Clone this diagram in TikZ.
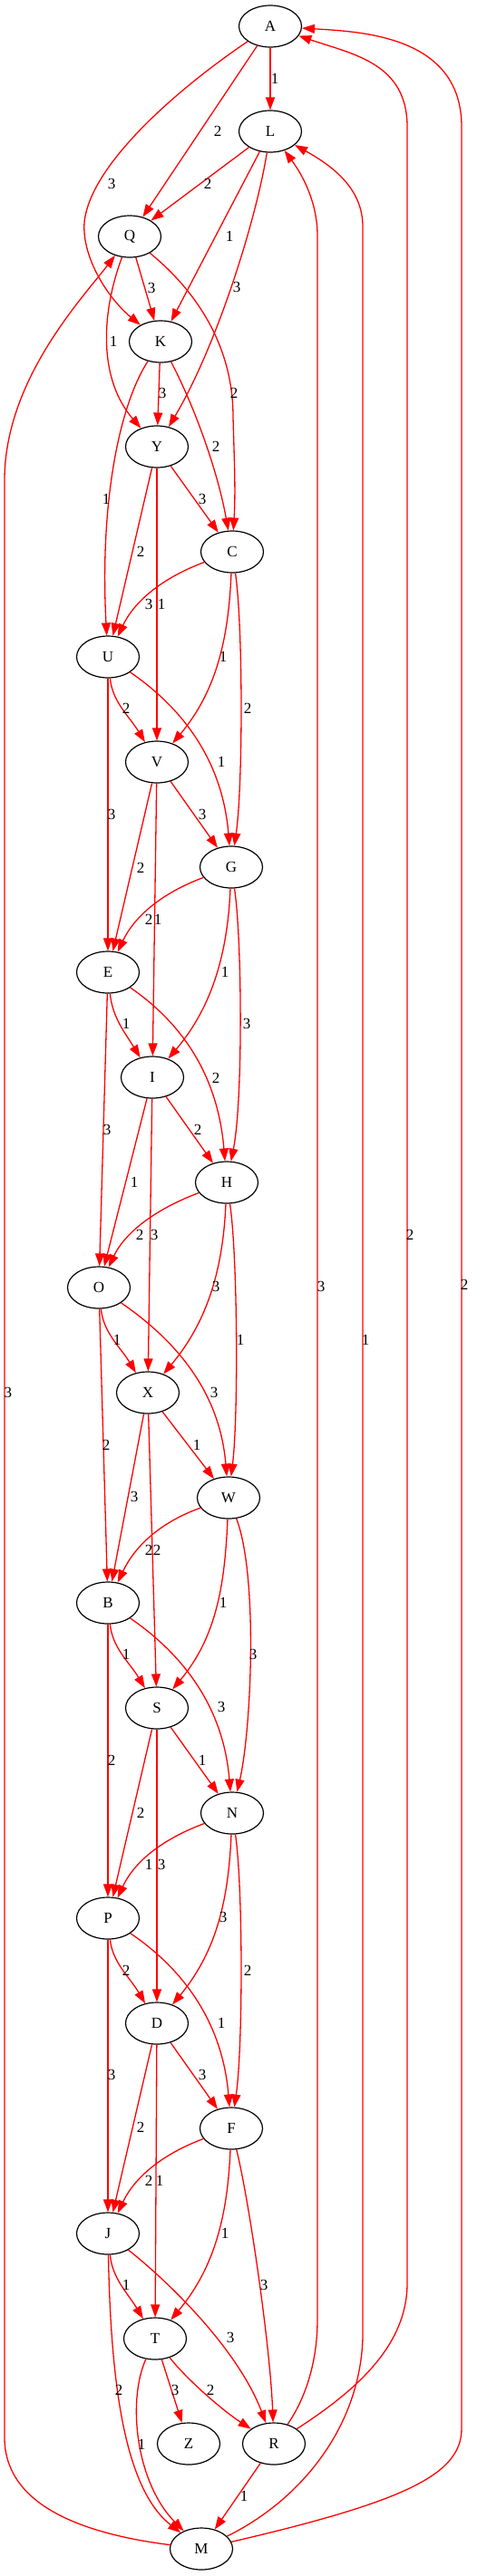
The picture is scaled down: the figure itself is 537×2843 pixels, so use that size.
\documentclass[tikz,border=0pt]{standalone}
\usepackage{fontspec}
\setmainfont{Liberation Serif}
\usetikzlibrary{shapes.geometric,arrows.meta}
\tikzset{
  vtx/.style={draw=black, line width=1.2pt, ellipse, minimum width=69pt, minimum height=46pt, inner sep=0pt, font=\fontsize{17}{20}\selectfont},
  e/.style={draw=red, line width=1.3pt, -{Triangle[length=14pt,width=10pt]}},
  lbl/.style={inner sep=0pt, font=\fontsize{17}{20}\selectfont},
}
\begin{document}
\begin{tikzpicture}[x=1pt,y=-1pt]
\useasboundingbox (0,0) rectangle (537,2843);
% nodes
\node[vtx] (A) at (298,29) {A};
\node[vtx] (L) at (298,145) {L};
\node[vtx] (Q) at (143,261) {Q};
\node[vtx] (K) at (177,377) {K};
\node[vtx] (Y) at (173,493) {Y};
\node[vtx] (C) at (256,609) {C};
\node[vtx] (U) at (119,725) {U};
\node[vtx] (V) at (173,841) {V};
\node[vtx] (G) at (255,957) {G};
\node[vtx] (E) at (119,1073) {E};
\node[vtx] (I) at (168,1189) {I};
\node[vtx] (H) at (250,1305) {H};
\node[vtx] (O) at (109,1421) {O};
\node[vtx] (X) at (163,1537) {X};
\node[vtx] (W) at (252,1653) {W};
\node[vtx] (B) at (119,1769) {B};
\node[vtx] (S) at (173,1885) {S};
\node[vtx] (N) at (256,2001) {N};
\node[vtx] (P) at (119,2117) {P};
\node[vtx] (D) at (173,2233) {D};
\node[vtx] (F) at (255,2349) {F};
\node[vtx] (J) at (119,2465) {J};
\node[vtx] (T) at (171,2581) {T};
\node[vtx] (Z) at (208,2697) {Z};
\node[vtx] (R) at (302,2697) {R};
\node[vtx] (M) at (222,2813) {M};
% edges
\draw[e] (A) -- (L);
\draw[e] (A) -- (Q);
\draw[e] (A) .. controls (200,95) and (100,180) .. (93,245) .. controls (90,285) and (120,330) .. (K);
\draw[e] (L) -- (Q);
\draw[e] (L) -- (K);
\draw[e] (L) .. controls (283,240) and (240,380) .. (Y);
\draw[e] (Q) -- (K);
\draw[e] (Q) .. controls (110,350) and (110,420) .. (Y);
\draw[e] (Q) .. controls (215,320) and (257,380) .. (257,460) .. controls (258,500) and (260,540) .. (C);
\draw[e] (K) -- (Y);
\draw[e] (K) .. controls (215,450) and (240,520) .. (C);
\draw[e] (K) .. controls (130,450) and (110,560) .. (U);
\draw[e] (Y) -- (C);
\draw[e] (Y) -- (U);
\draw[e] (Y) -- (V);
\draw[e] (C) .. controls (181,637) and (149,662) .. (U);
\draw[e] (C) .. controls (252,702) and (240,761) .. (V);
\draw[e] (C) .. controls (268,689) and (268,867) .. (G);
\draw[e] (U) .. controls (124,775) and (143,791) .. (V);
\draw[e] (U) .. controls (199,780) and (245,837) .. (G);
\draw[e] (U) -- (E);
\draw[e] (V) -- (G);
\draw[e] (V) -- (E);
\draw[e] (V) -- (I);
\draw[e] (G) .. controls (180,985) and (149,1010) .. (E);
\draw[e] (G) .. controls (251,1050) and (235,1110) .. (I);
\draw[e] (G) .. controls (267,1037) and (268,1215) .. (H);
\draw[e] (E) .. controls (124,1123) and (138,1140) .. (I);
\draw[e] (E) .. controls (199,1128) and (240,1185) .. (H);
\draw[e] (E) -- (O);
\draw[e] (I) -- (H);
\draw[e] (I) -- (O);
\draw[e] (I) -- (X);
\draw[e] (H) .. controls (175,1333) and (139,1358) .. (O);
\draw[e] (H) .. controls (246,1398) and (230,1457) .. (X);
\draw[e] (H) .. controls (262,1385) and (263,1562) .. (W);
\draw[e] (O) .. controls (114,1471) and (133,1487) .. (X);
\draw[e] (O) .. controls (189,1476) and (242,1532) .. (W);
\draw[e] (O) -- (B);
\draw[e] (X) -- (W);
\draw[e] (X) -- (B);
\draw[e] (X) -- (S);
\draw[e] (W) .. controls (177,1680) and (149,1706) .. (B);
\draw[e] (W) .. controls (248,1745) and (240,1805) .. (S);
\draw[e] (W) .. controls (285,1740) and (277,1910) .. (N);
\draw[e] (B) .. controls (124,1819) and (143,1835) .. (S);
\draw[e] (B) .. controls (199,1824) and (246,1881) .. (N);
\draw[e] (B) -- (P);
\draw[e] (S) -- (N);
\draw[e] (S) -- (P);
\draw[e] (S) -- (D);
\draw[e] (N) .. controls (181,2029) and (149,2053) .. (P);
\draw[e] (N) .. controls (252,2094) and (240,2152) .. (D);
\draw[e] (N) .. controls (268,2081) and (268,2259) .. (F);
\draw[e] (P) .. controls (124,2166) and (143,2182) .. (D);
\draw[e] (P) .. controls (199,2171) and (245,2229) .. (F);
\draw[e] (P) -- (J);
\draw[e] (D) -- (F);
\draw[e] (D) -- (J);
\draw[e] (D) -- (T);
\draw[e] (F) .. controls (180,2377) and (149,2402) .. (J);
\draw[e] (F) .. controls (251,2442) and (238,2501) .. (T);
\draw[e] (F) .. controls (275,2430) and (298,2590) .. (R);
\draw[e] (J) .. controls (124,2515) and (141,2531) .. (T);
\draw[e] (J) .. controls (200,2530) and (265,2600) .. (R);
\draw[e] (J) .. controls (122,2620) and (135,2745) .. (M);
\draw[e] (T) -- (Z);
\draw[e] (T) .. controls (205,2625) and (245,2660) .. (R);
\draw[e] (T) .. controls (140,2650) and (150,2740) .. (M);
\draw[e] (R) -- (M);
\draw[e] (R) .. controls (335,2650) and (350,2610) .. (350,2560) -- (350,260) .. controls (350,225) and (335,195) .. (L);
\draw[e] (M) .. controls (330,2760) and (397,2680) .. (400,2580) -- (400,250) .. controls (400,210) and (370,185) .. (L);
\draw[e] (R) .. controls (390,2640) and (449,2590) .. (449,2520) -- (449,140) .. controls (449,70) and (390,60) .. (A);
\draw[e] (M) .. controls (450,2760) and (509,2730) .. (509,2680) -- (509,140) .. controls (509,40) and (400,35) .. (A);
\draw[e] (M) .. controls (80,2795) and (5,2760) .. (5,2690) -- (5,530) .. controls (5,420) and (90,330) .. (Q);
% labels
\node[lbl] at (303,87) {1};
\node[lbl] at (240,145) {2};
\node[lbl] at (123,203) {3};
\node[lbl] at (229,203) {2};
\node[lbl] at (253,261) {1};
\node[lbl] at (261,317) {3};
\node[lbl] at (167,318) {3};
\node[lbl] at (125,377) {1};
\node[lbl] at (258,434) {2};
\node[lbl] at (179,434) {3};
\node[lbl] at (238,493) {2};
\node[lbl] at (117,551) {1};
\node[lbl] at (223,551) {3};
\node[lbl] at (155,609) {2};
\node[lbl] at (178,667) {1};
\node[lbl] at (164,667) {3};
\node[lbl] at (246,725) {1};
\node[lbl] at (273,782) {2};
\node[lbl] at (139,782) {2};
\node[lbl] at (244,841) {1};
\node[lbl] at (123,899) {3};
\node[lbl] at (223,899) {3};
\node[lbl] at (155,958) {2};
\node[lbl] at (174,1015) {1};
\node[lbl] at (164,1015) {2};
\node[lbl] at (248,1073) {1};
\node[lbl] at (272,1130) {3};
\node[lbl] at (139,1130) {1};
\node[lbl] at (238,1190) {2};
\node[lbl] at (118,1247) {3};
\node[lbl] at (218,1247) {2};
\node[lbl] at (148,1305) {1};
\node[lbl] at (170,1363) {3};
\node[lbl] at (154,1363) {2};
\node[lbl] at (238,1420) {3};
\node[lbl] at (265,1479) {1};
\node[lbl] at (129,1479) {1};
\node[lbl] at (236,1537) {3};
\node[lbl] at (117,1595) {2};
\node[lbl] at (217,1595) {1};
\node[lbl] at (148,1652) {3};
\node[lbl] at (173,1711) {2};
\node[lbl] at (164,1711) {2};
\node[lbl] at (246,1769) {1};
\node[lbl] at (279,1826) {3};
\node[lbl] at (139,1826) {1};
\node[lbl] at (244,1884) {3};
\node[lbl] at (123,1943) {2};
\node[lbl] at (223,1943) {1};
\node[lbl] at (155,2001) {2};
\node[lbl] at (178,2058) {3};
\node[lbl] at (164,2058) {1};
\node[lbl] at (246,2116) {3};
\node[lbl] at (273,2175) {2};
\node[lbl] at (139,2175) {2};
\node[lbl] at (244,2233) {1};
\node[lbl] at (123,2290) {3};
\node[lbl] at (223,2290) {3};
\node[lbl] at (155,2348) {2};
\node[lbl] at (176,2407) {1};
\node[lbl] at (164,2407) {2};
\node[lbl] at (248,2465) {1};
\node[lbl] at (291,2522) {3};
\node[lbl] at (139,2522) {1};
\node[lbl] at (254,2580) {3};
\node[lbl] at (131,2638) {2};
\node[lbl] at (193,2638) {3};
\node[lbl] at (232,2638) {2};
\node[lbl] at (156,2698) {1};
\node[lbl] at (269,2755) {1};
\node[lbl] at (354,1420) {3};
\node[lbl] at (403,1479) {1};
\node[lbl] at (452,1363) {2};
\node[lbl] at (512,1418) {2};
\node[lbl] at (9,1537) {3};
\end{tikzpicture}
\end{document}
